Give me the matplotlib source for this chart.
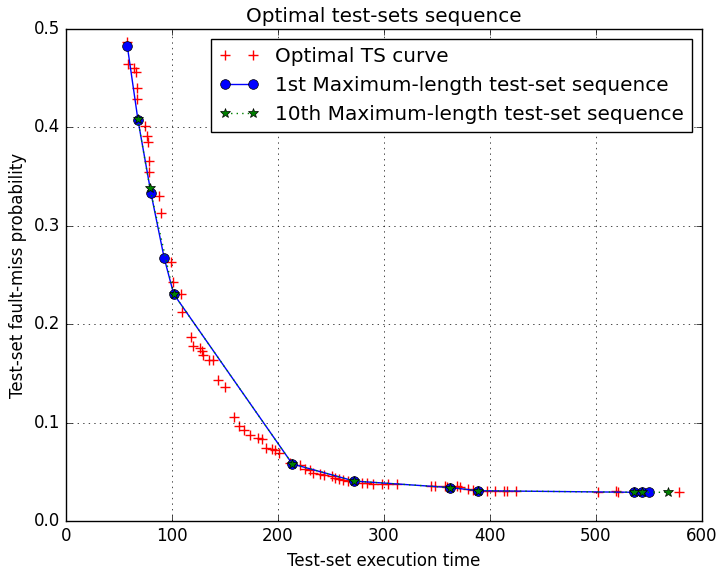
import matplotlib
matplotlib.use('Agg')
import matplotlib.pyplot as plt

# optimal test-set curve (execution time, fault-miss probability)
opt_time = [57.2, 58.5, 64.2, 66.0, 66.7, 67.3, 74.8, 76.1, 77.0, 78.3,
            78.6, 88.0, 89.3, 98.8, 100.9, 108.8, 109.1, 117.6, 120.1, 126.4,
            128.6, 129.5, 134.9, 139.0, 143.7, 150.0, 158.5, 163.5, 167.5, 173.3,
            180.8, 185.2, 188.8, 194.5, 197.2, 200.5, 211.3, 220.8, 225.5, 230.2,
            233.3, 239.6, 243.7, 250.6, 253.8, 257.9, 261.6, 266.3, 279.5, 283.7,
            289.9, 297.8, 304.1, 312.0, 344.3, 348.1, 357.5, 359.0, 369.2, 371.7,
            379.6, 384.3, 396.9, 404.7, 413.2, 415.7, 424.5, 501.6, 518.6, 520.5,
            578.6]
opt_prob = [0.487, 0.464, 0.460, 0.456, 0.440, 0.429, 0.401, 0.391, 0.385, 0.366,
            0.355, 0.330, 0.313, 0.263, 0.243, 0.231, 0.212, 0.187, 0.178, 0.1755,
            0.173, 0.169, 0.164, 0.164, 0.143, 0.1365, 0.106, 0.097, 0.093, 0.087,
            0.084, 0.083, 0.074, 0.073, 0.072, 0.069, 0.059, 0.057, 0.0525, 0.052,
            0.049, 0.048, 0.047, 0.046, 0.044, 0.043, 0.042, 0.041, 0.039, 0.039,
            0.038, 0.038, 0.0376, 0.0376, 0.0356, 0.0356, 0.0355, 0.0349, 0.0356, 0.0349,
            0.0322, 0.0315, 0.0308, 0.0308, 0.0308, 0.0308, 0.0308, 0.0298, 0.0305, 0.0298,
            0.029]

# 1st maximum-length sequence
seq1_time = [57.8, 67.9, 80.2, 92.7, 101.6, 213.5, 272.0, 362.5, 389.0, 536.0, 543.7, 550.3]
seq1_prob = [0.483, 0.4075, 0.333, 0.267, 0.2307, 0.058, 0.0406, 0.034, 0.0308, 0.0292, 0.0292, 0.0292]

# 10th maximum-length sequence
seq10_time = [67.6, 79.2, 101.6, 213.5, 272.0, 362.5, 389.0, 536.0, 543.7, 567.6]
seq10_prob = [0.409, 0.338, 0.2307, 0.058, 0.0406, 0.034, 0.0308, 0.0292, 0.0292, 0.0292]

plt.style.use('classic')
fig = plt.figure(figsize=(7.22, 5.68), dpi=100, facecolor='white')
ax = fig.add_axes([0.0914, 0.0827, 0.8809, 0.8663])

ax.plot(opt_time, opt_prob, '+', color='r', markeredgecolor='r', markersize=7,
        markeredgewidth=1.0, label='Optimal TS curve')
ax.plot(seq1_time, seq1_prob, 'bo-', markersize=7,
        label='1st Maximum-length test-set sequence')
ax.plot(seq10_time, seq10_prob, 'g*:', markersize=7,
        label='10th Maximum-length test-set sequence')

ax.set_xlim(0, 600)
ax.set_ylim(0, 0.5)
ax.grid(True)
ax.set_title('Optimal test-sets sequence')
ax.set_xlabel('Test-set execution time')
ax.set_ylabel('Test-set fault-miss probability')
ax.legend(loc='upper right')

fig.savefig('out.png', dpi=100, facecolor='white')
